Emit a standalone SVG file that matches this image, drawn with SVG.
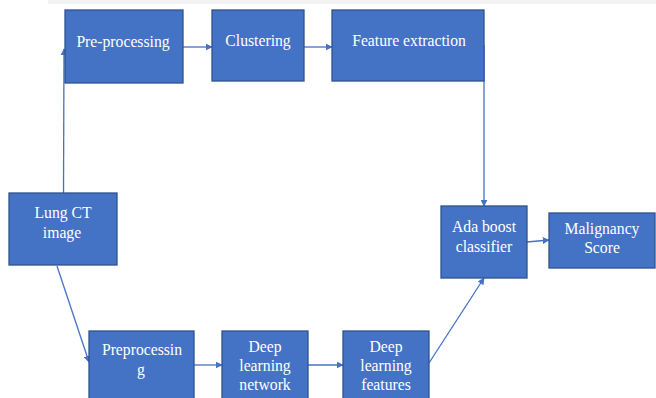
<svg xmlns="http://www.w3.org/2000/svg" width="656" height="398" viewBox="0 0 656 398">
<style>
.box{fill:#4472C4;stroke:#2F528F;stroke-width:1.3}
.t{font-family:"Liberation Serif","Times New Roman",serif;font-size:15.7px;fill:#ffffff;text-anchor:middle}
.c{stroke:#4472C4;stroke-width:1.3;fill:none;marker-end:url(#ah)}
</style>
<defs>
<marker id="ah" viewBox="0 0 10 10" refX="9" refY="5" markerWidth="7" markerHeight="7" markerUnits="userSpaceOnUse" orient="auto">
<path d="M0,0 L10,5 L0,10 z" fill="#4472C4"/>
</marker>
</defs>
<rect x="0" y="0" width="656" height="398" fill="#ffffff"/>
<rect x="48" y="0" width="608" height="4" fill="#f3f3f3"/>
<g id="connectors">
<line class="c" x1="63.5" y1="193" x2="64" y2="49"/>
<line class="c" x1="183" y1="47" x2="212" y2="47"/>
<line class="c" x1="304" y1="47" x2="332" y2="47"/>
<line class="c" x1="484" y1="45" x2="484" y2="206"/>
<line class="c" x1="57" y1="266" x2="89" y2="362"/>
<line class="c" x1="194" y1="365" x2="222" y2="365"/>
<line class="c" x1="308" y1="365" x2="343" y2="365"/>
<line class="c" x1="429" y1="363" x2="484" y2="278"/>
<line class="c" x1="527" y1="242" x2="549" y2="240"/>
</g>
<g id="preprocessing-top"><rect class="box" x="65" y="10" width="118" height="73"/><text class="t" x="123" y="47">Pre-processing</text></g>
<g id="clustering"><rect class="box" x="212" y="10" width="92" height="71"/><text class="t" x="258" y="46">Clustering</text></g>
<g id="feature-extraction"><rect class="box" x="332" y="10" width="152" height="71"/><text class="t" x="409" y="46">Feature extraction</text></g>
<g id="lung-ct"><rect class="box" x="9" y="193" width="108" height="72"/><text class="t" x="63" y="218">Lung CT</text><text class="t" x="62" y="238">image</text></g>
<g id="preprocessing-bottom"><rect class="box" x="89" y="331" width="105" height="72"/><text class="t" x="142" y="355">Preprocessin</text><text class="t" x="141" y="375">g</text></g>
<g id="dl-network"><rect class="box" x="222" y="331" width="86" height="72"/><text class="t" x="265" y="352">Deep</text><text class="t" x="265" y="371">learning</text><text class="t" x="265" y="390">network</text></g>
<g id="dl-features"><rect class="box" x="343" y="331" width="86" height="72"/><text class="t" x="386" y="352">Deep</text><text class="t" x="386" y="371">learning</text><text class="t" x="386" y="390">features</text></g>
<g id="adaboost"><rect class="box" x="441" y="206" width="86" height="72"/><text class="t" x="484" y="232">Ada boost</text><text class="t" x="484" y="252">classifier</text></g>
<g id="malignancy"><rect class="box" x="549" y="213" width="106" height="55"/><text class="t" x="602" y="234">Malignancy</text><text class="t" x="602" y="253">Score</text></g>
</svg>
